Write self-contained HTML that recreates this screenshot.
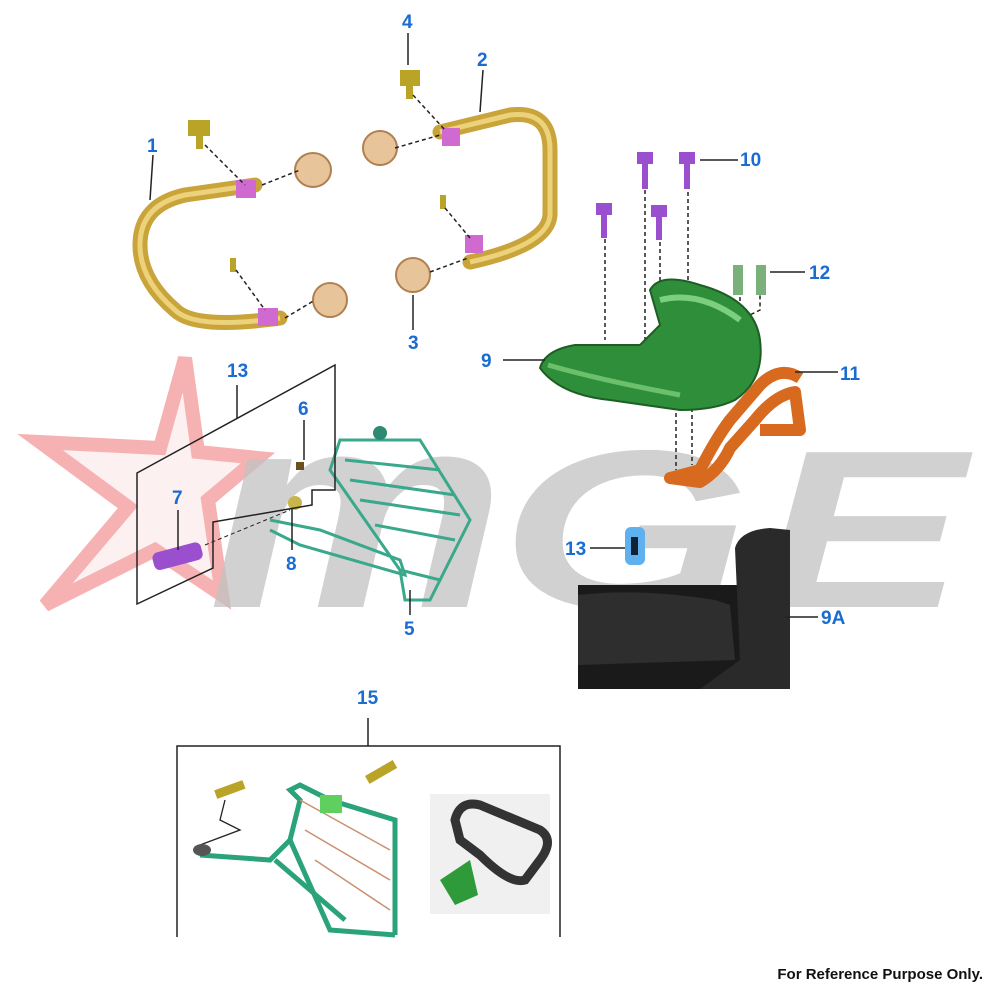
<!DOCTYPE html>
<html><head><meta charset="utf-8"><style>
html,body{margin:0;padding:0;background:#fff;}
svg{display:block}
.l{font-family:"Liberation Sans",sans-serif;font-size:19px;font-weight:bold;fill:#1a6cd0;}
</style></head><body>
<svg width="1000" height="1000" viewBox="0 0 1000 1000" xmlns="http://www.w3.org/2000/svg">
<!-- watermark star -->
<path d="M185,358 L160,448 L40,442 L128,507 L45,605 L155,550 L222,595 L208,500 L258,458 L198,452 Z" fill="#fdeeee" stroke="#f5a5a5" stroke-width="14" stroke-linejoin="miter" opacity="0.85"/>
<!-- watermark letters -->
<g font-family="Liberation Sans,sans-serif" font-style="italic" font-weight="bold" fill="#c2c2c2" opacity="0.75">
<text x="208" y="607" font-size="280" textLength="297" lengthAdjust="spacingAndGlyphs">m</text>
<text x="500" y="607" font-size="225" textLength="250" lengthAdjust="spacingAndGlyphs">G</text>
<text x="760" y="607" font-size="225" textLength="205" lengthAdjust="spacingAndGlyphs">E</text>
</g>

<!-- part 1 bar -->
<path d="M255,185 L185,195 Q140,205 140,245 Q140,280 175,310 Q195,330 280,318" fill="none" stroke="#c9a43a" stroke-width="15" stroke-linecap="round"/>
<path d="M255,185 L185,195 Q140,205 140,245 Q140,280 175,310 Q195,330 280,318" fill="none" stroke="#ecd27a" stroke-width="5"/>
<rect x="236" y="180" width="20" height="18" fill="#d06ad0"/>
<rect x="258" y="308" width="20" height="18" fill="#d06ad0"/>
<!-- part 2 bar -->
<path d="M440,132 L510,115 Q550,110 550,150 L550,215 Q548,245 470,262" fill="none" stroke="#c9a43a" stroke-width="15" stroke-linecap="round"/>
<path d="M440,132 L510,115 Q550,110 550,150 L550,215 Q548,245 470,262" fill="none" stroke="#ecd27a" stroke-width="5"/>
<rect x="442" y="128" width="18" height="18" fill="#d06ad0"/>
<rect x="465" y="235" width="18" height="18" fill="#d06ad0"/>
<!-- bushings -->
<g fill="#e8c49a" stroke="#b08050" stroke-width="2">
<ellipse cx="313" cy="170" rx="18" ry="17"/><ellipse cx="330" cy="300" rx="17" ry="17"/>
<ellipse cx="380" cy="148" rx="17" ry="17"/><ellipse cx="413" cy="275" rx="17" ry="17"/></g>
<!-- bolts -->
<g fill="#b9a428"><rect x="188" y="120" width="22" height="16"/><rect x="196" y="135" width="7" height="14"/>
<rect x="400" y="70" width="20" height="16"/><rect x="406" y="85" width="7" height="14"/>
<rect x="230" y="258" width="6" height="14"/><rect x="440" y="195" width="6" height="14"/></g>
<g stroke="#222" stroke-width="1.5" stroke-dasharray="4,3" fill="none">
<path d="M205,145 L245,185"/><path d="M262,185 L300,170"/><path d="M236,270 L265,310"/><path d="M285,318 L315,300"/>
<path d="M413,95 L445,130"/><path d="M395,148 L440,135"/><path d="M445,208 L470,238"/><path d="M430,272 L468,258"/>
<path d="M605,225 L605,340"/><path d="M645,190 L645,355"/><path d="M660,235 L660,340"/><path d="M688,185 L688,325"/>
<path d="M740,290 L740,320 L760,310 L760,295"/><path d="M676,350 L676,470"/><path d="M692,345 L692,465"/></g>
<!-- purple bolts -->
<g fill="#9a4fcf"><rect x="596" y="203" width="16" height="12"/><rect x="601" y="214" width="6" height="24"/>
<rect x="637" y="152" width="16" height="12"/><rect x="642" y="163" width="6" height="26"/>
<rect x="679" y="152" width="16" height="12"/><rect x="684" y="163" width="6" height="26"/>
<rect x="651" y="205" width="16" height="12"/><rect x="656" y="216" width="6" height="24"/>
<rect x="152" y="547" width="50" height="18" rx="6" transform="rotate(-15 178 554)"/></g>
<g fill="#7ab07a"><rect x="733" y="265" width="10" height="30"/><rect x="756" y="265" width="10" height="30"/></g>
<!-- green part 9 -->
<path d="M540,368 Q545,350 575,345 L640,345 L660,325 L650,290 Q660,272 700,285 Q755,300 760,340 Q765,380 735,400 Q715,410 680,410 L610,400 Q560,395 540,368 Z" fill="#2f8e3a" stroke="#1e5e25" stroke-width="2"/>
<path d="M660,300 Q700,290 740,320" fill="none" stroke="#7ccf7c" stroke-width="6"/>
<path d="M548,365 Q600,380 680,395" fill="none" stroke="#6cc06c" stroke-width="5"/>
<!-- orange part 11 -->
<path d="M800,378 Q780,365 760,385 L730,420 Q715,440 700,470 L670,478 L700,482 Q720,470 730,448 L755,420 Q775,395 795,392 L800,430 L760,430" fill="none" stroke="#d86a20" stroke-width="12" stroke-linejoin="round"/>
<!-- part 5 rack -->
<g fill="none" stroke="#3aa88a" stroke-width="3">
<path d="M340,440 L420,440 L470,520 L440,580 L400,570 L330,470 Z"/>
<path d="M345,460 L440,470"/><path d="M350,480 L455,495"/><path d="M360,500 L460,515"/><path d="M375,525 L455,540"/>
<path d="M270,520 L320,530 L400,560 L405,575 L300,545 L270,530"/><path d="M380,440 L380,430"/>
<path d="M400,570 L405,600 L430,600 L440,580"/></g>
<circle cx="380" cy="433" r="7" fill="#2e8a70"/>
<circle cx="295" cy="503" r="7" fill="#c9b64a"/>
<rect x="296" y="462" width="8" height="8" fill="#6a5020"/>
<!-- box 13 -->
<path d="M137,473 L335,365 L335,490 L312,490 L312,505 L213,522 L213,568 L137,604 Z" fill="none" stroke="#222" stroke-width="1.5"/>
<path d="M205,545 L290,510" stroke="#222" stroke-dasharray="4,3"/>
<!-- 13 icon -->
<rect x="625" y="527" width="20" height="38" rx="6" fill="#5fb0ee"/>
<rect x="631" y="537" width="7" height="18" fill="#123"/>
<!-- seat 9A -->
<rect x="578" y="585" width="212" height="104" fill="#1a1a1a"/>
<path d="M578,595 Q640,588 715,600 L730,605 L735,660 L578,665 Z" fill="#2e2e2e"/>
<path d="M735,548 Q740,530 770,528 L790,530 L790,689 L700,689 L740,660 Z" fill="#2a2a2a"/>
<!-- box 15 -->
<path d="M177,937 L177,746 L560,746 L560,937" fill="none" stroke="#222" stroke-width="1.5"/>
<path d="M368,718 L368,746" stroke="#222" stroke-width="1.5"/>
<g fill="none" stroke="#2aa27a" stroke-width="5">
<path d="M200,855 L270,860 L290,840 L300,800 L290,790 L300,785 L330,800 L395,820 L395,935"/>
<path d="M290,840 L330,930 L395,935"/><path d="M275,860 L345,920"/></g>
<g stroke="#c99070" stroke-width="1.5"><path d="M300,800 L390,850"/><path d="M305,830 L390,880"/><path d="M315,860 L390,910"/></g>
<rect x="320" y="795" width="22" height="18" fill="#5fd05f"/>
<rect x="430" y="794" width="120" height="120" fill="#f0f0f0"/>
<path d="M455,820 Q460,800 480,805 L540,830 Q555,840 540,860 L525,880 Q510,885 480,855 L460,840 Z" fill="none" stroke="#333" stroke-width="9"/>
<path d="M440,880 L470,860 L478,895 L455,905 Z" fill="#2f9a3a"/>
<g fill="#b9a428"><rect x="215" y="785" width="30" height="9" transform="rotate(-20 230 790)"/><rect x="365" y="768" width="32" height="9" transform="rotate(-30 380 772)"/></g>
<path d="M225,800 L220,820 L240,830 L200,845" fill="none" stroke="#222" stroke-width="1.3"/>
<ellipse cx="202" cy="850" rx="9" ry="6" fill="#555"/>
<!-- leader lines -->
<g stroke="#222" stroke-width="1.5">
<path d="M153,155 L150,200"/><path d="M483,70 L480,112"/><path d="M413,295 L413,330"/><path d="M408,33 L408,65"/>
<path d="M700,160 L738,160"/><path d="M770,272 L805,272"/><path d="M503,360 L545,360"/><path d="M795,372 L838,372"/>
<path d="M237,385 L237,418"/><path d="M304,420 L304,460"/><path d="M178,510 L178,550"/><path d="M292,508 L292,550"/>
<path d="M410,590 L410,615"/><path d="M590,548 L625,548"/><path d="M785,617 L818,617"/></g>
<!-- labels -->
<text class="l" x="147" y="152">1</text><text class="l" x="477" y="66">2</text><text class="l" x="408" y="349">3</text>
<text class="l" x="402" y="28">4</text><text class="l" x="404" y="635">5</text><text class="l" x="298" y="415">6</text>
<text class="l" x="172" y="504">7</text><text class="l" x="286" y="570">8</text><text class="l" x="481" y="367">9</text>
<text class="l" x="821" y="624">9A</text><text class="l" x="740" y="166">10</text><text class="l" x="840" y="380">11</text>
<text class="l" x="809" y="279">12</text><text class="l" x="227" y="377">13</text><text class="l" x="565" y="555">13</text>
<text class="l" x="357" y="704">15</text>
<text x="983" y="979" text-anchor="end" font-family="Liberation Sans,sans-serif" font-weight="bold" font-size="15" fill="#111">For Reference Purpose Only.</text>
</svg>
</body></html>
